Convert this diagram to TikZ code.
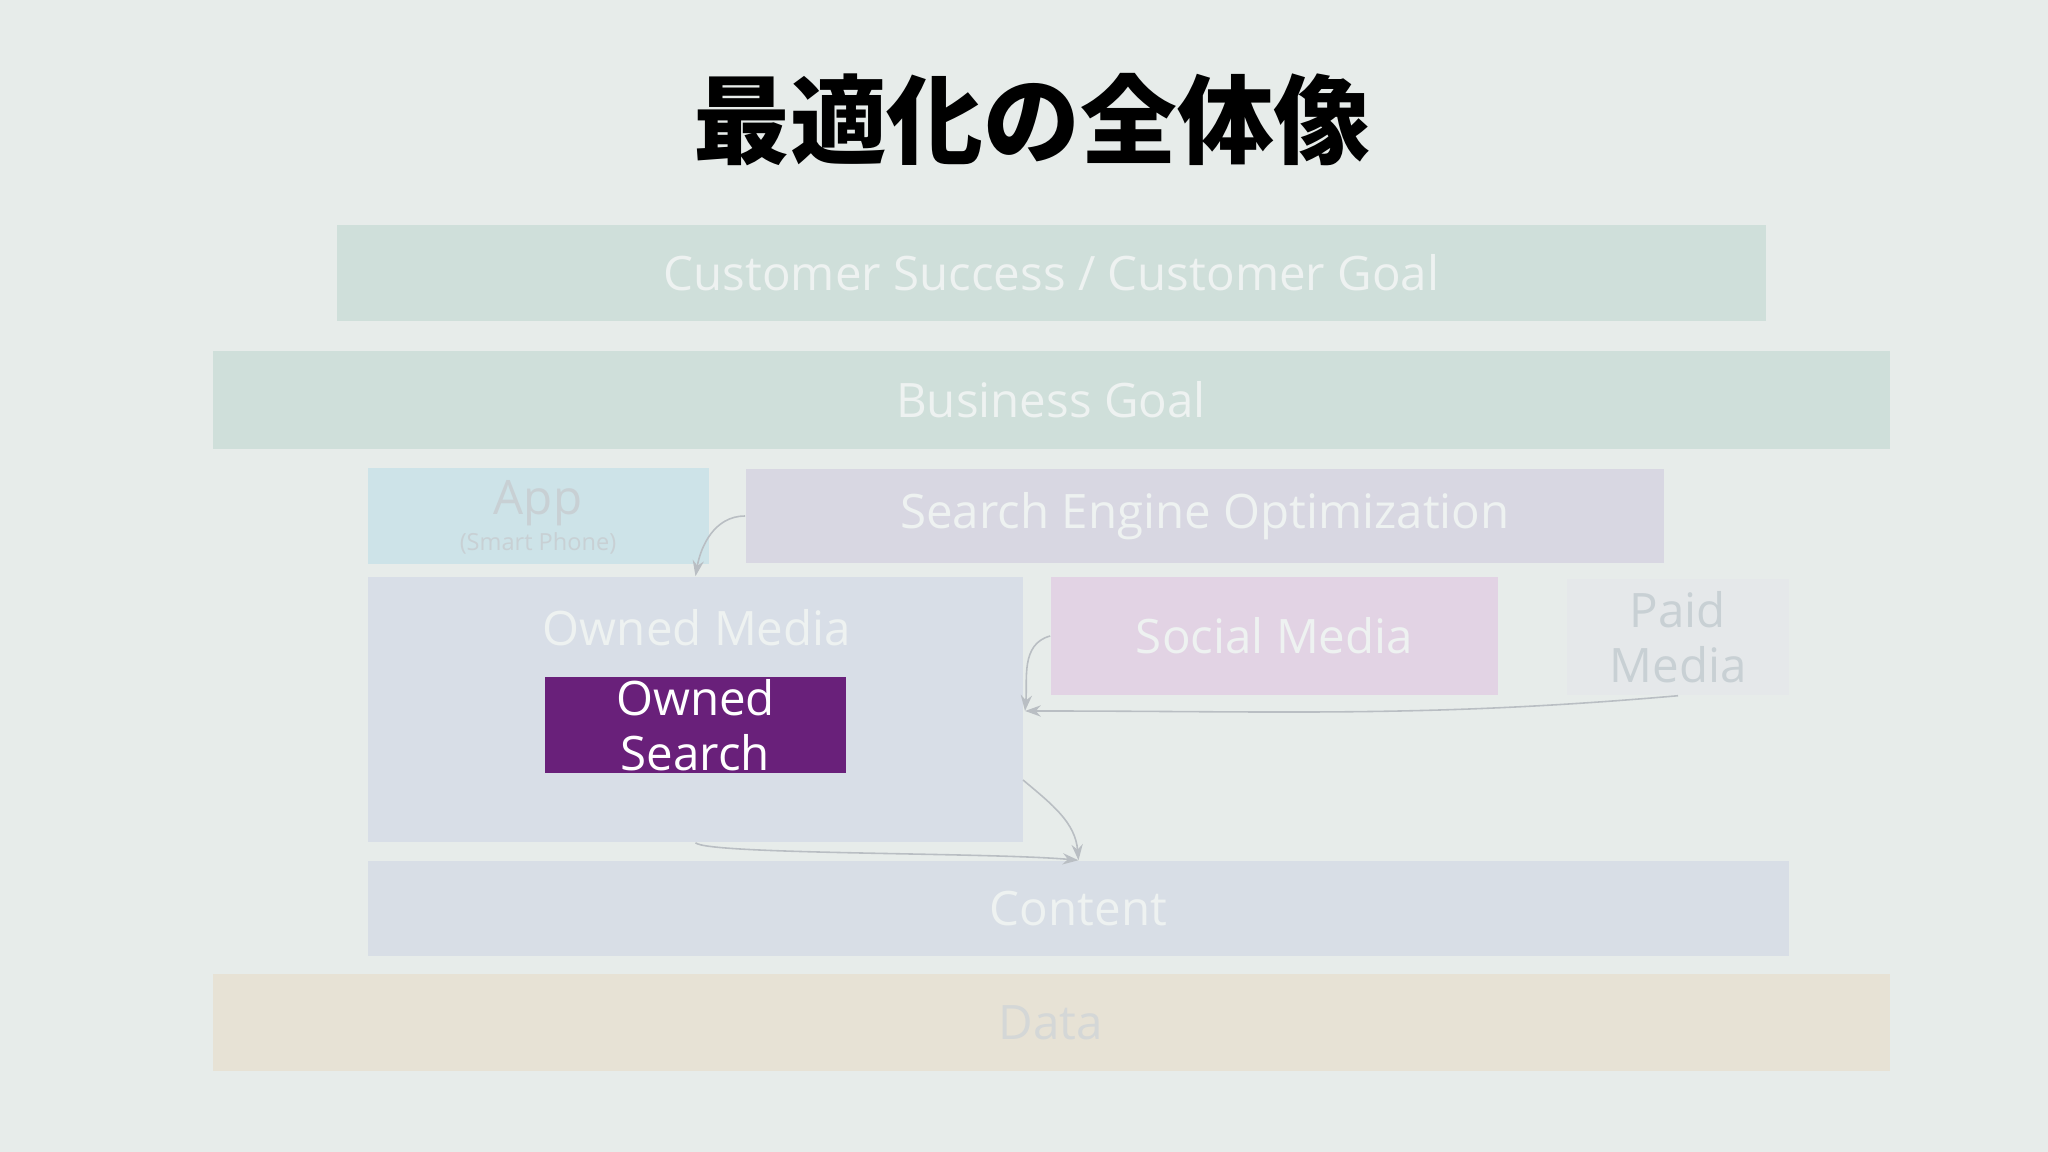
\documentclass[tikz,border=0pt]{standalone}
\usepackage{fontspec}
\setmainfont{Open Sans}
\newfontfamily\jpfont{Noto Sans CJK JP}
\usetikzlibrary{arrows.meta,positioning,calc}
\definecolor{bgcol}{HTML}{E7ECEA}
\definecolor{goalcol}{HTML}{CFDFDA}
\definecolor{appcol}{HTML}{CDE3E8}
\definecolor{seocol}{HTML}{D8D7E2}
\definecolor{ownedcol}{HTML}{D8DEE7}
\definecolor{searchcol}{HTML}{69207A}
\definecolor{socialcol}{HTML}{E2D3E4}
\definecolor{paidcol}{HTML}{E5E8EA}
\definecolor{contentcol}{HTML}{D8DEE6}
\definecolor{datacol}{HTML}{E7E2D5}
\definecolor{paletext}{HTML}{EEF2F1}
\definecolor{greytext}{HTML}{C8D0D4}
\definecolor{datatext}{HTML}{D4D7D7}
\definecolor{linkcol}{HTML}{B9BEC3}

\begin{document}
\begin{tikzpicture}[x=0.01cm, y=0.01cm, >={Stealth[length=4.5pt,width=3.2pt]}]
    \tikzstyle{layer}=[draw=none,inner sep=0pt,text=paletext,font=\fontsize{13.5}{16}\selectfont]
    \tikzstyle{link}=[->,draw=linkcol,line width=0.45pt]

    \fill[bgcol] (0,0) rectangle (2048,1152);

    \node[font=\jpfont\bfseries\fontsize{27.5}{30}\selectfont] (title) at (1032,1032) {最適化の全体像};

    \node[layer,fill=goalcol,minimum width=14.29cm,minimum height=0.96cm]   (cs)  at (1051.5,879) {Customer Success / Customer Goal};
    \node[layer,fill=goalcol,minimum width=16.76cm,minimum height=0.98cm]   (bg)  at (1051,752)   {Business Goal};
    \node[layer,fill=appcol,minimum width=3.41cm,minimum height=0.96cm]     (app) at (538.5,636)  {};
    \node[layer,fill=seocol,minimum width=9.18cm,minimum height=0.94cm]     (seo) at (1205,636)   {Search Engine Optimization};
    \node[layer,fill=ownedcol,minimum width=6.55cm,minimum height=2.65cm]   (om)  at (695.5,442.5) {};
    \node[layer,fill=searchcol,text=white,minimum width=3.01cm,minimum height=0.96cm,align=center,
          font=\fontsize{13.5}{15.5}\selectfont]                            (os)  at (695.5,427)  {Owned\\Search};
    \node[layer,fill=socialcol,minimum width=4.47cm,minimum height=1.18cm]  (sm)  at (1274.5,516) {Social Media};
    \node[layer,fill=paidcol,text=greytext,minimum width=2.22cm,minimum height=1.16cm,align=center,
          font=\fontsize{13.5}{15.5}\selectfont]                            (pm)  at (1678,515)   {Paid\\Media};
    \node[layer,fill=contentcol,minimum width=14.21cm,minimum height=0.95cm] (ct) at (1078.5,243.5) {Content};
    \node[layer,fill=datacol,text=datatext,minimum width=16.76cm,minimum height=0.97cm] (data) at (1051,129.5) {Data};

    % labels inside the boxes
    \node[layer,text=greytext] (applabel) at (538,649) {App};
    \node[layer,text=greytext,font=\fontsize{6.7}{8}\selectfont] (appsub) at (538,609) {(Smart Phone)};
    \node[layer] (omlabel) at (697,524) {Owned Media};

    \coordinate (omside) at (1025,441);
    \coordinate (omlow)  at (1023,372);

    \path
    (seo.west) edge[link,out=180,in=80]   (om.north)
    (sm.west)  edge[link,out=195,in=85]   (omside)
    (pm.south) edge[link,out=185,in=0]    (omside)
    (omlow)    edge[link,out=-40,in=95]   (ct.north);
    \draw[link] (om.south) .. controls ($(om.south)+(12,-12)$) and ($(ct.north)+(-90,8)$) .. (ct.north);

\end{tikzpicture}
\end{document}
